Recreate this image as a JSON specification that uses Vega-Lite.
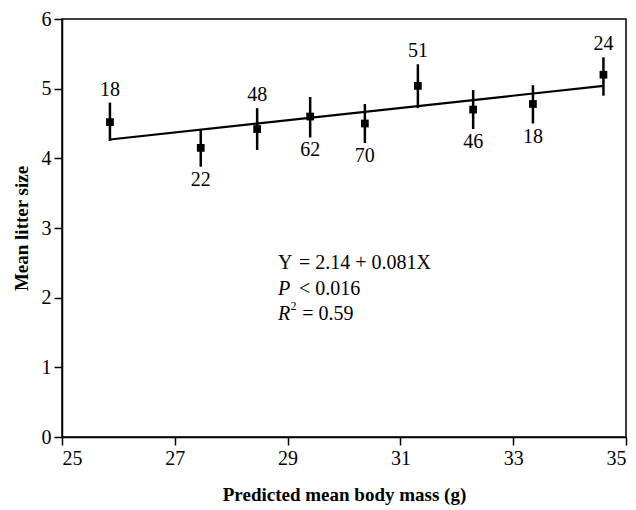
{
  "$schema": "https://vega.github.io/schema/vega-lite/v6.json",
  "width": 564,
  "height": 418,
  "autosize": "none",
  "padding": {"left": 62, "top": 19, "right": 10, "bottom": 73},
  "background": "white",
  "config": {
    "font": "Liberation Serif",
    "view": {"stroke": "black", "strokeWidth": 1.5},
    "axis": {
      "grid": false,
      "domainColor": "black",
      "domainWidth": 1.5,
      "tickColor": "black",
      "tickWidth": 1.5,
      "tickSize": 8,
      "labelFont": "Liberation Serif",
      "labelFontSize": 20,
      "labelColor": "black",
      "titleFont": "Liberation Serif",
      "titleFontSize": 19,
      "titleFontWeight": "bold",
      "titleColor": "black"
    }
  },
  "datasets": {
    "points": [
      {"mass": 25.85, "litter": 4.52, "lo": 4.25, "hi": 4.8, "n": "18", "side": "above"},
      {"mass": 27.46, "litter": 4.15, "lo": 3.88, "hi": 4.42, "n": "22", "side": "below"},
      {"mass": 28.46, "litter": 4.42, "lo": 4.12, "hi": 4.72, "n": "48", "side": "above"},
      {"mass": 29.4, "litter": 4.6, "lo": 4.3, "hi": 4.88, "n": "62", "side": "below"},
      {"mass": 30.37, "litter": 4.5, "lo": 4.22, "hi": 4.78, "n": "70", "side": "below"},
      {"mass": 31.31, "litter": 5.04, "lo": 4.72, "hi": 5.35, "n": "51", "side": "above"},
      {"mass": 32.29, "litter": 4.7, "lo": 4.42, "hi": 4.98, "n": "46", "side": "below"},
      {"mass": 33.35, "litter": 4.78, "lo": 4.5, "hi": 5.05, "n": "18", "side": "below"},
      {"mass": 34.6, "litter": 5.2, "lo": 4.9, "hi": 5.45, "n": "24", "side": "above"}
    ],
    "fit": [
      {"mass": 25.85, "litter": 4.27},
      {"mass": 34.6, "litter": 5.04}
    ],
    "notes": [
      {"t": "Y", "ax": 28.83, "ay": 2.5, "st": "normal"},
      {"t": "= 2.14 + 0.081X", "ax": 29.2, "ay": 2.5, "st": "normal"},
      {"t": "P", "ax": 28.83, "ay": 2.12, "st": "italic"},
      {"t": "< 0.016", "ax": 29.2, "ay": 2.12, "st": "normal"},
      {"t": "R", "ax": 28.83, "ay": 1.77, "st": "italic"},
      {"t": "2", "ax": 29.05, "ay": 1.88, "st": "small"},
      {"t": "= 0.59", "ax": 29.26, "ay": 1.77, "st": "normal"}
    ]
  },
  "layer": [
    {
      "data": {"name": "fit"},
      "mark": {"type": "line", "color": "black", "strokeWidth": 2.2},
      "encoding": {
        "x": {
          "field": "mass",
          "type": "quantitative",
          "scale": {"domain": [25, 35], "nice": false},
          "axis": {"values": [25, 27, 29, 31, 33, 35], "format": "d", "labelPadding": 3, "titlePadding": 17},
          "title": "Predicted mean body mass (g)"
        },
        "y": {
          "field": "litter",
          "type": "quantitative",
          "scale": {"domain": [0, 6], "nice": false},
          "axis": {"values": [0, 1, 2, 3, 4, 5, 6], "format": "d", "labelPadding": 3, "titlePadding": 10},
          "title": "Mean litter size"
        }
      }
    },
    {
      "data": {"name": "points"},
      "mark": {"type": "rule", "color": "black", "strokeWidth": 2.5},
      "encoding": {
        "x": {"field": "mass", "type": "quantitative"},
        "y": {"field": "lo", "type": "quantitative"},
        "y2": {"field": "hi"}
      }
    },
    {
      "data": {"name": "points"},
      "mark": {"type": "point", "shape": "square", "filled": true, "color": "black", "opacity": 1, "size": 60},
      "encoding": {
        "x": {"field": "mass", "type": "quantitative"},
        "y": {"field": "litter", "type": "quantitative"}
      }
    },
    {
      "data": {"name": "points"},
      "transform": [{"filter": "datum.side == 'above'"}],
      "mark": {"type": "text", "fontSize": 20, "baseline": "bottom", "dy": -3, "color": "black"},
      "encoding": {
        "x": {"field": "mass", "type": "quantitative"},
        "y": {"field": "hi", "type": "quantitative"},
        "text": {"field": "n"}
      }
    },
    {
      "data": {"name": "points"},
      "transform": [{"filter": "datum.side == 'below'"}],
      "mark": {"type": "text", "fontSize": 20, "baseline": "top", "dy": 3, "color": "black"},
      "encoding": {
        "x": {"field": "mass", "type": "quantitative"},
        "y": {"field": "lo", "type": "quantitative"},
        "text": {"field": "n"}
      }
    },
    {
      "data": {"name": "notes"},
      "transform": [{"filter": "datum.st == 'normal'"}],
      "mark": {"type": "text", "fontSize": 20, "align": "left", "baseline": "middle", "color": "black"},
      "encoding": {
        "x": {"field": "ax", "type": "quantitative"},
        "y": {"field": "ay", "type": "quantitative"},
        "text": {"field": "t"}
      }
    },
    {
      "data": {"name": "notes"},
      "transform": [{"filter": "datum.st == 'small'"}],
      "mark": {"type": "text", "fontSize": 12, "align": "left", "baseline": "middle", "color": "black"},
      "encoding": {
        "x": {"field": "ax", "type": "quantitative"},
        "y": {"field": "ay", "type": "quantitative"},
        "text": {"field": "t"}
      }
    },
    {
      "data": {"name": "notes"},
      "transform": [{"filter": "datum.st == 'italic'"}],
      "mark": {"type": "text", "fontSize": 20, "fontStyle": "italic", "align": "left", "baseline": "middle", "color": "black"},
      "encoding": {
        "x": {"field": "ax", "type": "quantitative"},
        "y": {"field": "ay", "type": "quantitative"},
        "text": {"field": "t"}
      }
    }
  ]
}
